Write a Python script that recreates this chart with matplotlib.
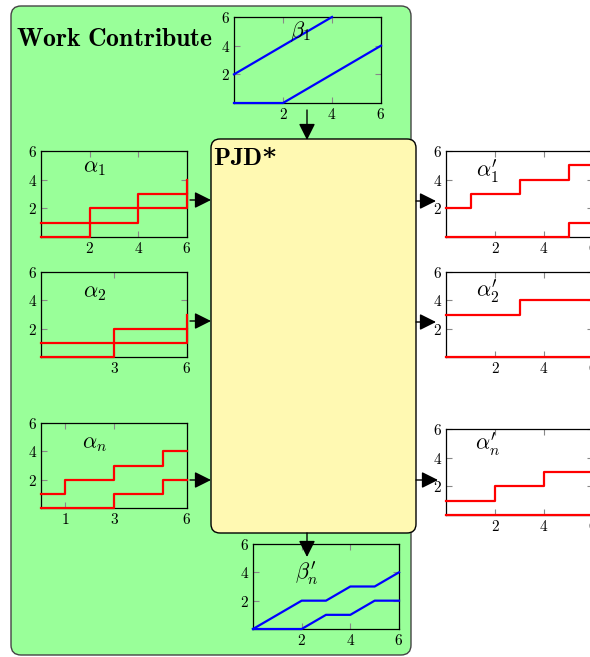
import matplotlib
matplotlib.use("Agg")
import matplotlib.pyplot as plt
from matplotlib.patches import FancyBboxPatch

plt.rcParams['mathtext.fontset'] = 'cm'
plt.rcParams['font.family'] = 'DejaVu Serif'

W, H = 590, 657

# beta_1 (input service curves)
beta1_up_x = [0, 4]
beta1_up_y = [2, 6]
beta1_lo_x = [0, 2, 6]
beta1_lo_y = [0, 0, 4]

# alpha curves (step, post)
alpha1_up_x = [0, 2, 4, 6]
alpha1_up_y = [1, 2, 3, 4]
alpha1_lo_x = [0, 2, 4, 6]
alpha1_lo_y = [0, 1, 2, 3]

alpha2_up_x = [0, 3, 6]
alpha2_up_y = [1, 2, 3]
alpha2_lo_x = [0, 3, 6]
alpha2_lo_y = [0, 1, 2]

alphan_up_x = [0, 1, 3, 5, 6]
alphan_up_y = [1, 2, 3, 4, 4]
alphan_lo_x = [0, 3, 5, 6]
alphan_lo_y = [0, 1, 2, 2]

# output arrival curves
alpha1p_up_x = [0, 1, 3, 5, 6]
alpha1p_up_y = [2, 3, 4, 5, 5]
alpha1p_lo_x = [0, 5, 6]
alpha1p_lo_y = [0, 1, 1]

alpha2p_up_x = [0, 3, 6]
alpha2p_up_y = [3, 4, 4]
alpha2p_lo_x = [0, 6]
alpha2p_lo_y = [0, 0]

alphanp_up_x = [0, 2, 4, 6]
alphanp_up_y = [1, 2, 3, 3]
alphanp_lo_x = [0, 6]
alphanp_lo_y = [0, 0]

# beta'_n
betanp_up_x = [0, 2, 3, 4, 5, 6]
betanp_up_y = [0, 2, 2, 3, 3, 4]
betanp_lo_x = [0, 2, 3, 4, 5, 6]
betanp_lo_y = [0, 0, 1, 1, 2, 2]

fig = plt.figure(figsize=(W / 100, H / 100), dpi=100)
fig.patch.set_facecolor('white')

bg = fig.add_axes([0, 0, 1, 1])
bg.set_xlim(0, W)
bg.set_ylim(H, 0)
bg.axis('off')

green = FancyBboxPatch((11, 6), 400, 649, boxstyle='round,pad=0,rounding_size=10',
                       facecolor='#99FF99', edgecolor='#444444', lw=1.0)
bg.add_patch(green)
pjd = FancyBboxPatch((211, 139), 205, 394, boxstyle='round,pad=0,rounding_size=9',
                     facecolor='#FFF9B2', edgecolor='black', lw=1.0)
bg.add_patch(pjd)
bg.text(16, 38, r'$\mathbf{Work\ Contribute}$', fontsize=18.5, va='center', ha='left')
bg.text(213, 158, r'$\mathbf{PJD}$*', fontsize=18, fontweight='bold',
        va='center', ha='left')


def small_axes(x0, y0, x1, y1, xticks, yticks, face=None):
    ax = fig.add_axes([x0 / W, 1 - y1 / H, (x1 - x0) / W, (y1 - y0) / H])
    ax.set_xlim(0, 6)
    ax.set_ylim(0, 6)
    if face is None:
        ax.patch.set_alpha(0)
    else:
        ax.set_facecolor(face)
    ax.set_xticks(xticks)
    ax.set_xticklabels(['$%d$' % t for t in xticks])
    ax.set_yticks(yticks)
    ax.set_yticklabels(['$%d$' % t for t in yticks])
    ax.tick_params(direction='in', top=True, right=True, length=4, width=0.8,
                   color='#888888', labelsize=11, pad=3)
    for s in ax.spines.values():
        s.set_linewidth(0.9)
    return ax


def label(ax, txt, x, y):
    ax.text(x, y, txt, fontsize=16, ha='center', va='center')


# beta_1
ax = small_axes(234, 17, 381, 103, [2, 4, 6], [2, 4, 6])
ax.plot(beta1_up_x, beta1_up_y, color='blue', lw=1.6, clip_on=False, zorder=3)
ax.plot(beta1_lo_x, beta1_lo_y, color='blue', lw=1.6, clip_on=False, zorder=3)
label(ax, r'$\beta_1$', 2.7, 5.0)

# alpha_1
ax = small_axes(41, 151, 187, 237, [2, 4, 6], [2, 4, 6])
ax.step(alpha1_up_x, alpha1_up_y, where='post', color='red', lw=1.6, clip_on=False, zorder=3)
ax.step(alpha1_lo_x, alpha1_lo_y, where='post', color='red', lw=1.6, clip_on=False, zorder=3)
label(ax, r'$\alpha_1$', 2.2, 4.9)

# alpha_2
ax = small_axes(41, 272, 187, 357, [3, 6], [2, 4, 6])
ax.step(alpha2_up_x, alpha2_up_y, where='post', color='red', lw=1.6, clip_on=False, zorder=3)
ax.step(alpha2_lo_x, alpha2_lo_y, where='post', color='red', lw=1.6, clip_on=False, zorder=3)
label(ax, r'$\alpha_2$', 2.2, 4.6)

# alpha_n
ax = small_axes(41, 423, 187, 508, [1, 3, 6], [2, 4, 6])
ax.step(alphan_up_x, alphan_up_y, where='post', color='red', lw=1.6, clip_on=False, zorder=3)
ax.step(alphan_lo_x, alphan_lo_y, where='post', color='red', lw=1.6, clip_on=False, zorder=3)
label(ax, r'$\alpha_n$', 2.2, 4.6)

# alpha'_1
ax = small_axes(446, 151, 593, 237, [2, 4, 6], [2, 4, 6], face='white')
ax.step(alpha1p_up_x, alpha1p_up_y, where='post', color='red', lw=1.6, clip_on=False, zorder=3)
ax.step(alpha1p_lo_x, alpha1p_lo_y, where='post', color='red', lw=1.6, clip_on=False, zorder=3)
label(ax, r"$\alpha_1'$", 1.7, 4.6)

# alpha'_2
ax = small_axes(446, 272, 593, 357, [2, 4, 6], [2, 4, 6], face='white')
ax.step(alpha2p_up_x, alpha2p_up_y, where='post', color='red', lw=1.6, clip_on=False, zorder=3)
ax.step(alpha2p_lo_x, alpha2p_lo_y, where='post', color='red', lw=1.6, clip_on=False, zorder=3)
label(ax, r"$\alpha_2'$", 1.7, 4.6)

# alpha'_n
ax = small_axes(446, 429, 593, 515, [2, 4, 6], [2, 4, 6], face='white')
ax.step(alphanp_up_x, alphanp_up_y, where='post', color='red', lw=1.6, clip_on=False, zorder=3)
ax.step(alphanp_lo_x, alphanp_lo_y, where='post', color='red', lw=1.6, clip_on=False, zorder=3)
label(ax, r"$\alpha_n'$", 1.7, 4.9)

# beta'_n
ax = small_axes(253, 544, 399, 629, [2, 4, 6], [2, 4, 6])
ax.plot(betanp_up_x, betanp_up_y, color='blue', lw=1.6, clip_on=False, zorder=3)
ax.plot(betanp_lo_x, betanp_lo_y, color='blue', lw=1.6, clip_on=False, zorder=3)
label(ax, r"$\beta_n'$", 2.2, 3.9)

# arrows on top
fg = fig.add_axes([0, 0, 1, 1])
fg.set_xlim(0, W)
fg.set_ylim(H, 0)
fg.axis('off')
fg.patch.set_alpha(0)
arrows = [((307, 110), (307, 140)),
          ((190, 200), (211, 200)),
          ((190, 321), (211, 321)),
          ((190, 480), (211, 480)),
          ((416, 201), (436, 201)),
          ((416, 322), (436, 322)),
          ((416, 480), (438, 480)),
          ((307, 533), (307, 557))]
for (xa, ya), (xb, yb) in arrows:
    fg.annotate('', xy=(xb, yb), xytext=(xa, ya),
                arrowprops=dict(arrowstyle='-|>,head_length=0.5,head_width=0.25',
                                mutation_scale=20, color='black', lw=1.0,
                                shrinkA=0, shrinkB=0))

fig.savefig('out.png', dpi=100)
